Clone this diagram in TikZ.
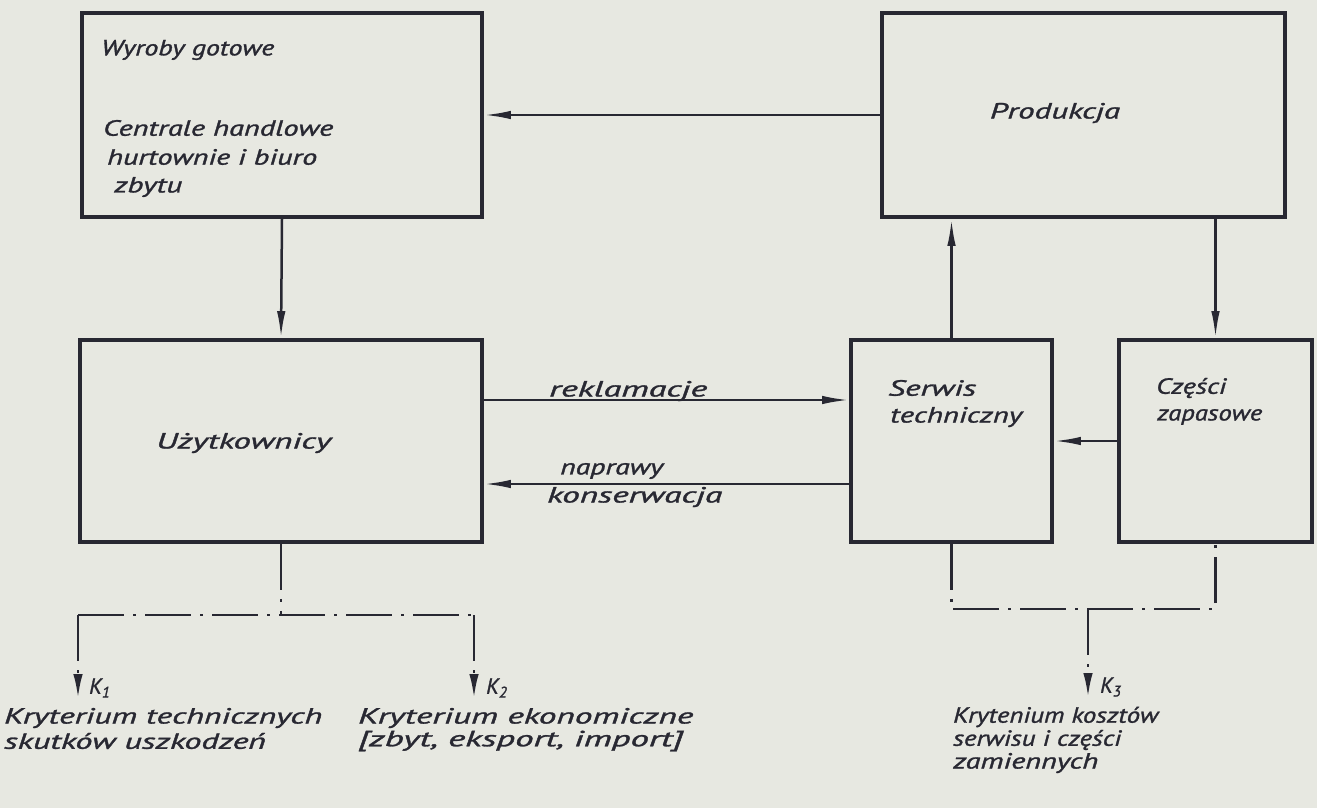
\documentclass[tikz,border=0pt]{standalone}
\usepackage{graphicx}
\usepackage{fontspec}
\setmainfont{PT Sans}
\newfontfamily\letterfont{PT Sans}[FakeBold=1.2]
\usetikzlibrary{arrows.meta}
\definecolor{paper}{RGB}{231,232,225}
\definecolor{ink}{RGB}{40,40,50}
% stencil-like lettering set to a given width
\newcommand\lettering[2]{\resizebox{#1pt}{\height}{#2}}

\begin{document}
\begin{tikzpicture}[x=1pt,y=-1pt,
  box/.style={draw=ink,line width=3.8pt,inner sep=0pt},
  txt/.style={font=\letterfont\itshape\fontsize{22}{25}\selectfont,text=ink,inner sep=0pt,anchor=west},
  link/.style={draw=ink,line width=2.5pt},
  dashdot/.style={link,dash pattern=on 46pt off 9pt on 3pt off 9pt},
  wedge/.style={-{Latex[length=27pt,width=8.5pt]}},
  kwedge/.style={-{Latex[length=24pt,width=9.5pt]}},
]
% paper
\fill[paper] (0,0) rectangle (1317,808);
\useasboundingbox (0,0) rectangle (1317,808);

% blocks
\node[box,minimum width=400pt,minimum height=204pt] (wyr)  at (282,115) {};
\node[box,minimum width=403pt,minimum height=204pt] (prod) at (1083.5,115) {};
\node[box,minimum width=402pt,minimum height=202pt] (uzy)  at (281,441) {};
\node[box,minimum width=201pt,minimum height=202pt] (serw) at (951.5,441) {};
\node[box,minimum width=193pt,minimum height=202pt] (cze)  at (1215.5,441) {};

% block texts
\node[txt] (t1) at (101,50) {\lettering{173}{Wyroby gotowe}};
\node[txt] (t2) at (103,128) {\lettering{230}{Centrale handlowe}};
\node[txt] (t3) at (107,157) {\lettering{210}{hurtownie i biuro}};
\node[txt] (t4) at (114,187) {\lettering{68}{zbytu}};
\node[txt,anchor=center] (t5) at (1055,113) {\lettering{130}{Produkcja}};
\node[txt] (t6) at (156,443) {\lettering{175}{Użytkownicy}};
\node[txt] (t7) at (888,388) {\lettering{88}{Serwis}};
\node[txt] (t8) at (890,417) {\lettering{132}{techniczny}};
\node[txt] (t9) at (1156,388) {\lettering{70}{Części}};
\node[txt] (t10) at (1157,417) {\lettering{105}{zapasowe}};

% flows between blocks
\draw[link,wedge] (prod.west) -- (wyr.east);
\draw[link,wedge] (wyr.south) -- (uzy.north);
\draw[link,wedge] ([yshift=41pt]uzy.east) -- ([yshift=41pt]serw.west);
\draw[link,wedge] ([yshift=-43pt]serw.west) -- ([yshift=-43pt]uzy.east);
\draw[link,wedge] (cze.west) -- (serw.east);
\draw[link,wedge] (serw.north) -- (serw.north |- prod.south);
\draw[link,wedge] (cze.north |- prod.south) -- (cze.north);

\node[txt] (l1) at (549,391) {\lettering{158}{reklamacje}};
\node[txt] (l2) at (560,471) {\lettering{103}{naprawy}};
\node[txt] (l3) at (547,497) {\lettering{175}{konserwacja}};

% criteria branches, left
\coordinate (cl) at (78,615);
\coordinate (cr) at (474,615);
\coordinate (jl) at (uzy.south |- cl);
\coordinate (k1) at (78,698);
\coordinate (k2) at (474,698);
\draw[dashdot] (uzy.south) -- (jl);
\draw[dashdot,kwedge] (cl) -- (k1);
\draw[dashdot,kwedge] (cr) -- (k2);
\draw[dashdot] (cl) -- (cr);

% criteria branches, right
\coordinate (cl3) at (serw.south |- 0,609);
\coordinate (cr3) at (cze.south |- 0,609);
\coordinate (j3) at (1088,609);
\coordinate (k3) at (1088,697);
\draw[dashdot] (serw.south) -- (cl3) -- (cr3) -- (cze.south);
\draw[dashdot,kwedge] (j3) -- (k3);

% criteria labels
\node[txt] (K1) at (89,688) {K\textsubscript{1}};
\node[txt] (K2) at (486,688) {K\textsubscript{2}};
\node[txt] (K3) at (1100,687) {K\textsubscript{3}};
\node[txt] (c1) at (4,718) {\lettering{318}{Kryterium technicznych}};
\node[txt] (c2) at (4,741) {\lettering{262}{skutków uszkodzeń}};
\node[txt] (c3) at (358,718) {\lettering{335}{Kryterium ekonomiczne}};
\node[txt] (c4) at (358,741) {\lettering{325}{[zbyt, eksport, import]}};
\node[txt] (c5) at (953,717) {\lettering{205}{Krytenium kosztów}};
\node[txt] (c6) at (953,740) {\lettering{168}{serwisu i części}};
\node[txt] (c7) at (953,763) {\lettering{145}{zamiennych}};
\end{tikzpicture}
\end{document}
